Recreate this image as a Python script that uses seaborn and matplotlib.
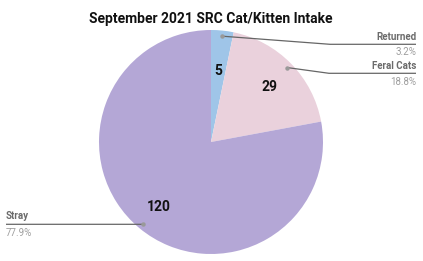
import numpy as np
import matplotlib
matplotlib.use("Agg")
import matplotlib.pyplot as plt
import seaborn as sns

sns.set_style("white")
plt.rcParams['font.family'] = ['Roboto', 'DejaVu Sans']

categories = ["Returned", "Feral Cats", "Stray"]
values = [5, 29, 120]
colors = ["#9fc5e8", "#ead1dc", "#b4a7d6"]
title = "September 2021 SRC Cat/Kitten Intake"

W, H = 423, 261
fig = plt.figure(figsize=(W / 100, H / 100), dpi=100)
cx, cy, R = 211, 142, 112
ax = fig.add_axes([(cx - R) / W, (H - cy - R) / H, 2 * R / W, 2 * R / H])

total = sum(values)
wedges, texts = ax.pie(values, colors=colors, startangle=90, counterclock=False,
                       radius=1, wedgeprops=dict(linewidth=0))
ax.set_xlim(-1, 1)
ax.set_ylim(-1, 1)
ax.set_aspect('equal')
ax.axis('off')

def px2data(px, py):
    return (px - cx) / R, (cy - py) / R

def fx(px):
    return px / W

def fy(py):
    return 1 - py / H

# value labels inside
val_dist = [0.66, 0.73, 0.73]
for w, v, d in zip(wedges, values, val_dist):
    mid = np.deg2rad((w.theta1 + w.theta2) / 2)
    ax.text(d * np.cos(mid), d * np.sin(mid) - 0.02, str(v), ha='center', va='center',
            fontsize=10, fontweight='bold', color='#111111')

# leader lines: (bend x, bend y, end x) in px, label side
leaders = [
    (330, 44.3, 416, 'right', 40, 55),
    (329, 73.3, 416, 'right', 69.3, 85),
    (143, 224.3, 6, 'left', 219, 235.5),
]
for w, cat, v, (bx, by, ex, side, ly, py) in zip(wedges, categories, values, leaders):
    mid = np.deg2rad((w.theta1 + w.theta2) / 2)
    dx, dy = 0.95 * np.cos(mid), 0.95 * np.sin(mid)
    b = px2data(bx, by)
    e = px2data(ex, by)
    ax.plot([dx, b[0], e[0]], [dy, b[1], e[1]], color='#666666', lw=0.9,
            clip_on=False, solid_capstyle='butt')
    ax.plot([dx], [dy], 'o', color='#999999', ms=3.2, clip_on=False, mec='none')
    ha = 'right' if side == 'right' else 'left'
    fig.text(fx(ex), fy(ly), cat, ha=ha, va='baseline', fontsize=7,
             fontweight='bold', color='#6b6b6b')
    fig.text(fx(ex), fy(py), f"{100 * v / total:.1f}%", ha=ha, va='baseline',
             fontsize=7, color='#9e9e9e')

fig.text(211 / W, fy(23), title, ha='center', va='baseline', fontsize=10,
         fontweight='bold', color='#111111')

fig.savefig("out.png", dpi=100)
